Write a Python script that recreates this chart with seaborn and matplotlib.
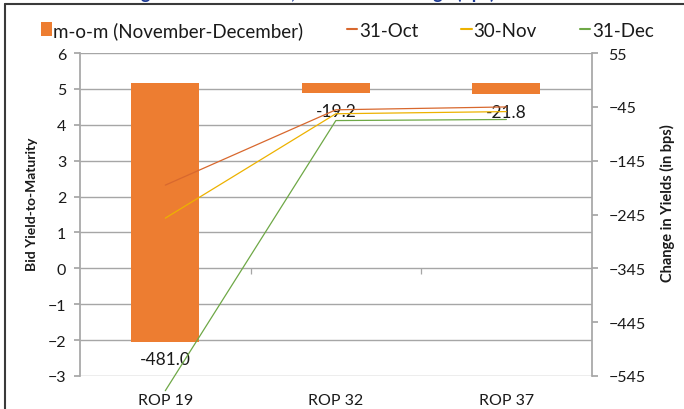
import matplotlib
matplotlib.use("Agg")
import matplotlib.pyplot as plt
import seaborn as sns
import pandas as pd
import numpy as np
from matplotlib.lines import Line2D

categories = ["ROP 19", "ROP 32", "ROP 37"]
mom_change = [-481.0, -19.2, -21.8]
series_names = ["31-Oct", "30-Nov", "31-Dec"]
yld_oct = [2.32, 4.42, 4.50]
yld_nov = [1.40, 4.31, 4.37]
yld_dec = [-3.41, 4.12, 4.15]
left_ticks = [-3, -2, -1, 0, 1, 2, 3, 4, 5, 6]
right_ticks = [55, -45, -145, -245, -345, -445, -545]

sns.set_theme(style="white")
plt.rcParams['font.family'] = ['Lato', 'DejaVu Sans']

BAR = "#ED7D31"
line_colors = {"31-Oct": "#D8682E", "30-Nov": "#EDB200", "31-Dec": "#6EA846"}
GRID = "#A6A6A6"
TXT = "#1a1a1a"

fig = plt.figure(figsize=(6.84, 4.10), dpi=100)
ax = fig.add_axes([0.117, 0.0805, 0.748, 0.7875])
ax2 = ax.twinx()

l0, l1 = -3, 6
r0, r1 = -545, 55

# bars on right axis
sns.barplot(x=categories, y=mom_change, ax=ax2, color=BAR, width=0.4,
            saturation=1, edgecolor="none", zorder=2)
ax2.bar_label(ax2.containers[0], fmt="%.1f", padding=7, fontsize=12.5, color=TXT)

# gridlines at left-axis integers, drawn on ax2 behind bars
grid_r = [r0 + (k - l0) * (r1 - r0) / (l1 - l0) for k in left_ticks]
ax2.hlines(grid_r, -0.5, len(categories) - 0.5, color=GRID, linewidth=1.0, zorder=0.5)

# lines on left axis
df = pd.DataFrame({
    "x": list(range(len(categories))) * 3,
    "yield": yld_oct + yld_nov + yld_dec,
    "series": [s for s in series_names for _ in categories],
})
sns.lineplot(data=df, x="x", y="yield", hue="series", palette=line_colors,
             ax=ax, linewidth=0.9, sort=False, legend=False)
for ln in ax.lines:
    ln.set_clip_on(False)

ax.set_zorder(ax2.get_zorder() + 1)
ax.patch.set_visible(False)

ax.set_xlim(-0.5, len(categories) - 0.5)
ax.set_xticks(range(len(categories)))
ax.set_xticklabels(categories)
ax.set_ylim(l0, l1)
ax.set_yticks(left_ticks)
ax2.set_yticks(right_ticks)
ax2.set_ylim(r0, r1)

# small category-boundary ticks on zero line
bounds = [i + 0.5 for i in range(len(categories) - 1)]
ax.vlines(bounds, -0.15, 0, color=GRID, linewidth=0.9)

for a in (ax, ax2):
    for s in a.spines.values():
        s.set_visible(False)
ax.spines["left"].set_visible(True)
ax.spines["left"].set_color(GRID)
ax2.spines["right"].set_visible(True)
ax2.spines["right"].set_color(GRID)

ax.tick_params(axis="y", which="major", left=True, length=4, color=GRID, labelsize=11.5,
               labelcolor=TXT, pad=6)
ax.tick_params(axis="x", length=0, labelsize=11.5, labelcolor=TXT, pad=12)
ax2.tick_params(axis="y", which="major", right=True, length=4, color=GRID, labelsize=11.5,
                labelcolor=TXT, pad=8)

ax.set_xlabel("")
ax.set_ylabel("Bid Yield-to-Maturity", fontsize=10, fontweight="bold", color=TXT)
ax2.set_ylabel("Change in Yields (in bps)", fontsize=10.5, fontweight="bold", color=TXT,
               rotation=90)
ax.yaxis.set_label_coords(-0.083, 0.535)
ax2.yaxis.set_label_coords(1.133, 0.54)

# legend
handles = [ax2.containers[0].patches[0]] + [
    Line2D([0], [0], color=line_colors[s], linewidth=1.5) for s in series_names]
labels = ["m-o-m (November-December)"] + series_names
leg = fig.legend(handles, labels, loc="center", bbox_to_anchor=(0.508, 0.925), ncol=4,
                 frameon=False, fontsize=13.5, handlelength=0.55, handleheight=0.75,
                 handletextpad=0.1, columnspacing=2.3)
for t in leg.get_texts():
    t.set_color(TXT)

# outer frame and clipped title
fig.add_artist(Line2D([0.008, 0.008], [0, 0.988], transform=fig.transFigure, color="#3a3a3a", linewidth=1.5))
fig.add_artist(Line2D([0.008, 1.0], [0.988, 0.988], transform=fig.transFigure, color="#3a3a3a", linewidth=1.5))
fig.text(0.724, 1.0 + 1.0 / 410, "Figure 5: ROP Yields, and m-o-m Change (bps)", ha="right", va="baseline",
         fontsize=13, fontweight="bold", color="#1F3C96")

fig.savefig("out.png", dpi=100)
